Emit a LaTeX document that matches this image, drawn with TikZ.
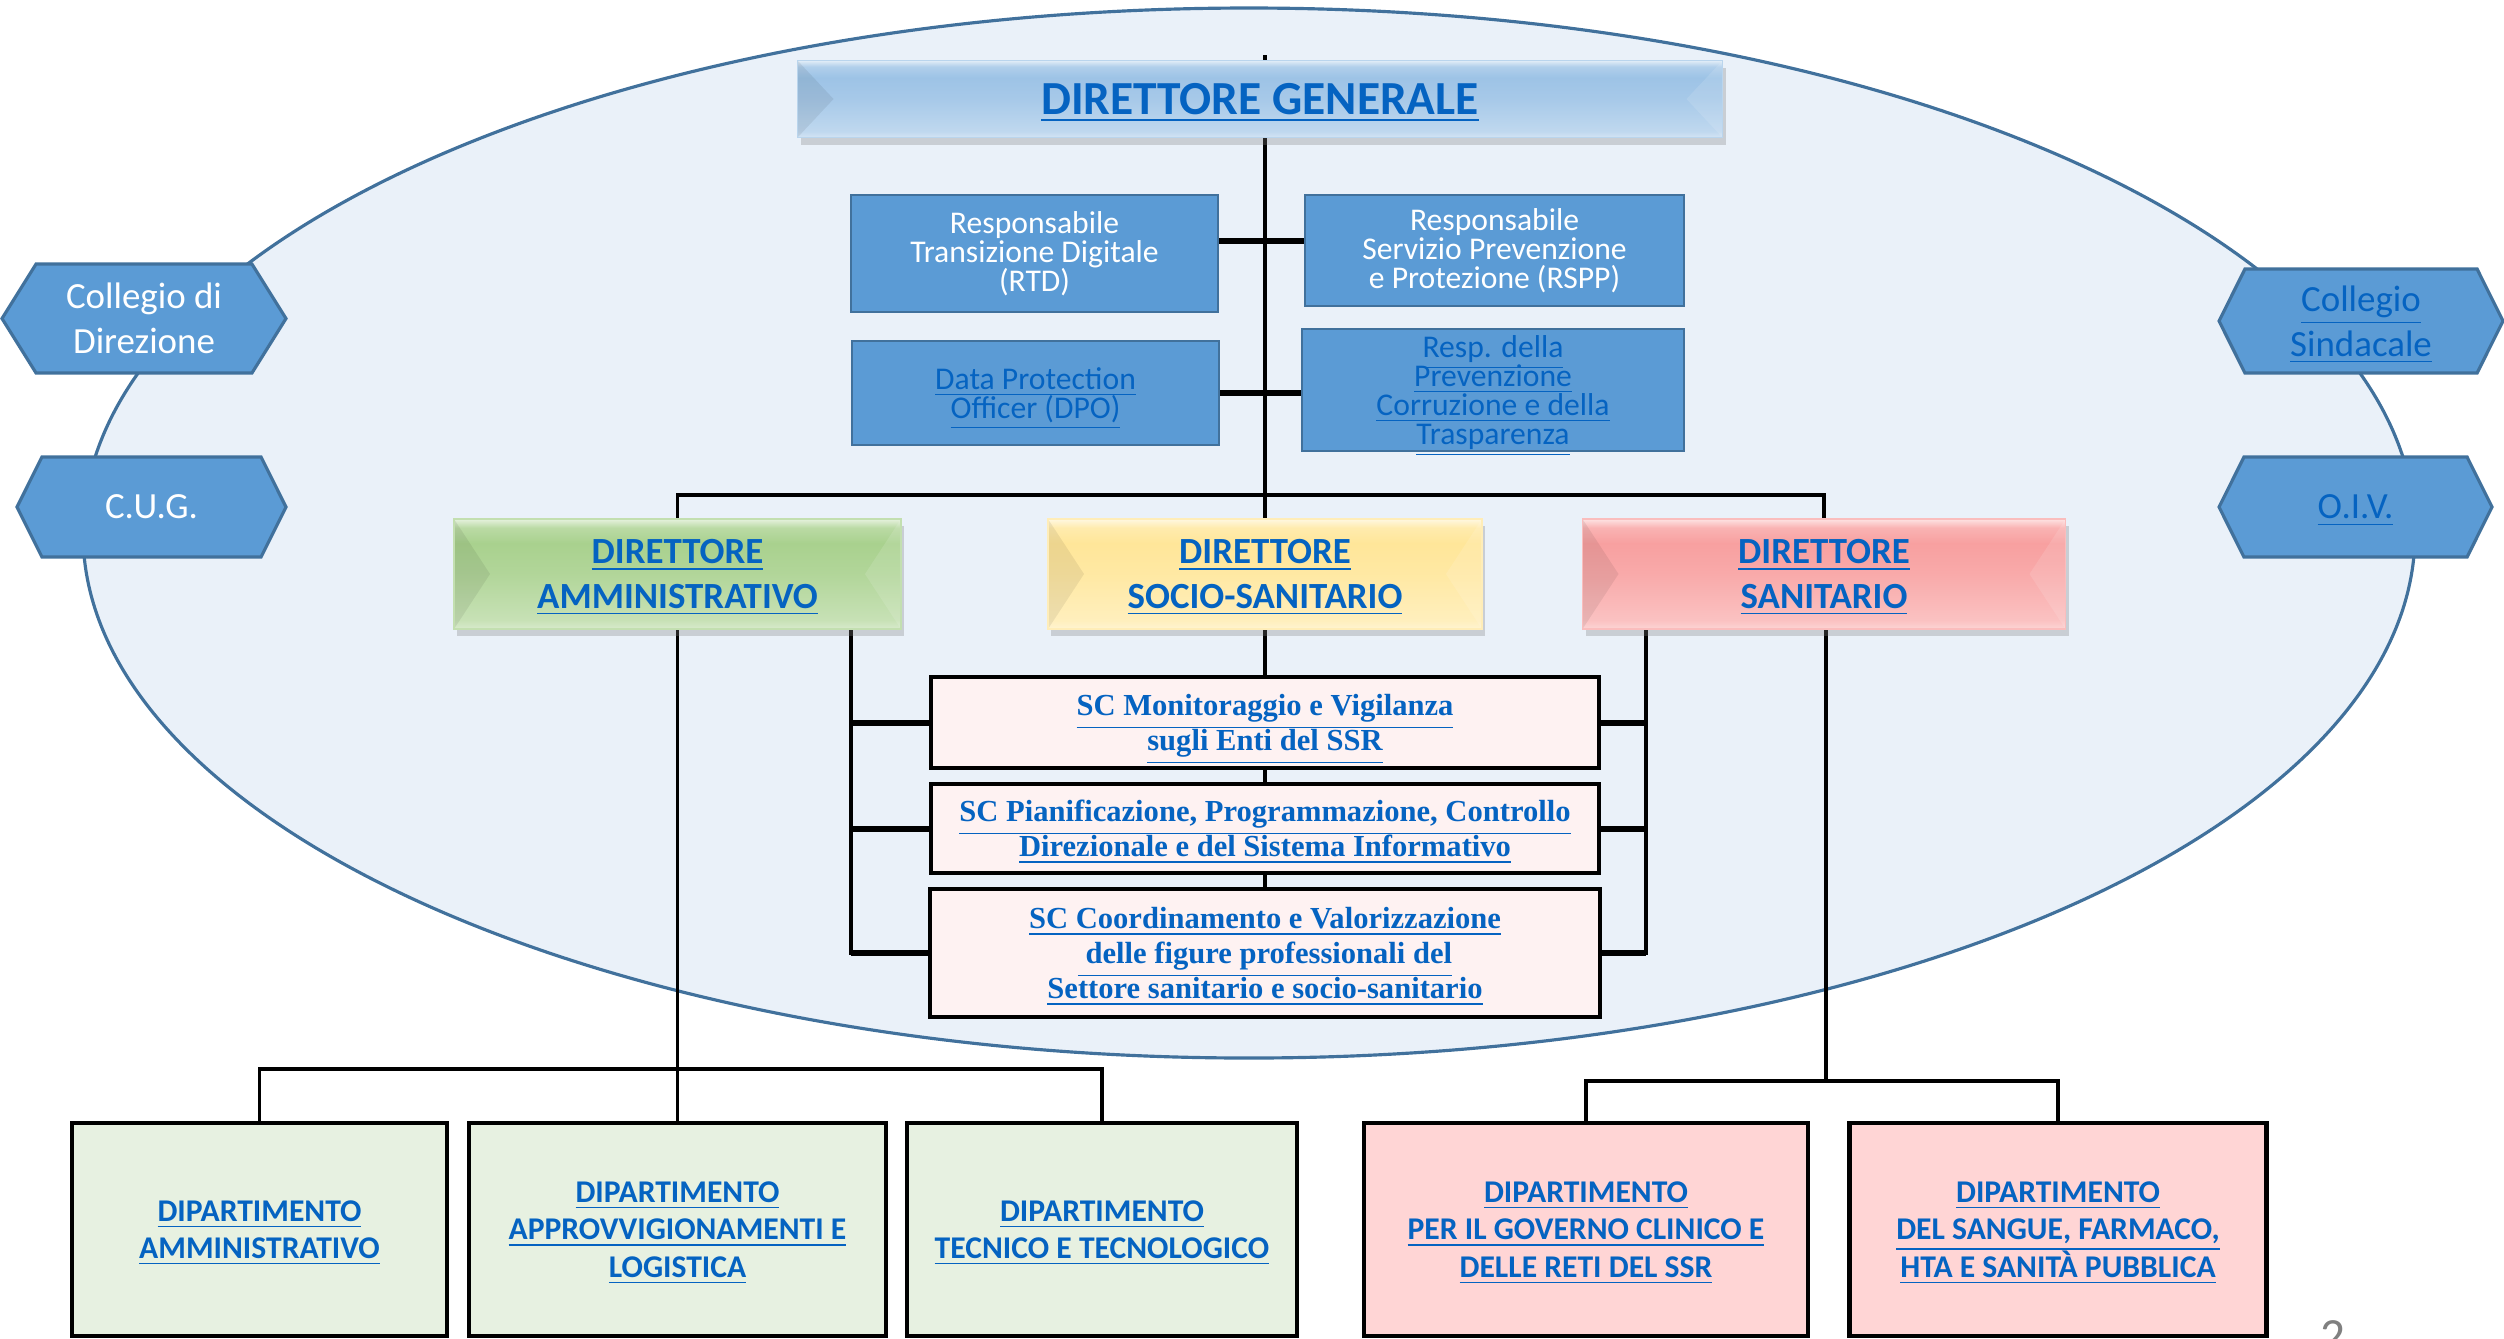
\documentclass[tikz,border=0pt]{standalone}
\usepackage{fontspec}
\setmainfont{Carlito}
\newfontfamily\scfont{Liberation Serif}
\usetikzlibrary{shapes.symbols,shadows,backgrounds,calc}

\definecolor{linkblue}{HTML}{0563C1}
\definecolor{boxblue}{HTML}{5B9BD5}
\definecolor{edgeblue}{HTML}{41719C}
\definecolor{ellfill}{HTML}{EAF1F9}
\definecolor{dgblue}{HTML}{9DC3E6}
\definecolor{dagreen}{HTML}{A9D18E}
\definecolor{dssyellow}{HTML}{FFE699}
\definecolor{dsred}{HTML}{F8A0A0}
\definecolor{scfill}{HTML}{FEF2F2}
\definecolor{depgreen}{HTML}{E7F1E1}
\definecolor{depred}{HTML}{FFD5D5}

% underlined link text, its rule kept out of the line depth
\newcommand{\lnk}[1]{\raisebox{0pt}[\height][0pt]{\underline{#1}}}
% bevel shading: the path covers 25bp (bottom) to 75bp (top)
\newcommand{\bevelshade}[1]{%
  \pgfdeclareverticalshading{bevel#1}{100bp}{color(0bp)=(#1!45!white); color(25bp)=(#1!45!white);
    color(29bp)=(#1!65!white); color(50bp)=(#1!90!white); color(64bp)=(#1); color(71bp)=(#1!80!white);
    color(75bp)=(#1!30!white); color(100bp)=(#1!30!white)}}
\bevelshade{dgblue}
\bevelshade{dagreen}
\bevelshade{dssyellow}
\bevelshade{dsred}

\begin{document}
\lineskiplimit=-20pt
\begin{tikzpicture}[line cap=rect]
  % Styles and colors
  \tikzset{
    conn/.style={line width=1pt},
    stub/.style={line width=1.7pt},
    smallbox/.style={draw=edgeblue, line width=0.8pt, fill=boxblue, align=center,
      inner sep=0pt, font=\fontsize{9}{8.2}\selectfont},
    hexa/.style={signal, signal to=east and west, draw=edgeblue, line width=0.9pt,
      fill=boxblue, align=center, inner sep=0pt, font=\fontsize{10.5}{12.8}\selectfont},
    dirbox/.style={minimum height=1.10cm, align=center, inner sep=0pt, text=linkblue,
      font=\bfseries\fontsize{10.5}{12.8}\selectfont, draw=#1!70!white, line width=0.4pt,
      shading=bevel#1,
      drop shadow={opacity=0.3, shadow xshift=0.03cm, shadow yshift=-0.07cm},
      path picture={
        \fill[black, opacity=0.07] (path picture bounding box.north west)
          -- ($(path picture bounding box.west)+(0.36,0)$) -- (path picture bounding box.south west) -- cycle;
        \fill[white, opacity=0.12] (path picture bounding box.north east)
          -- ($(path picture bounding box.east)+(-0.36,0)$) -- (path picture bounding box.south east) -- cycle;
      }},
    scbox/.style={draw=black, line width=1.3pt, fill=scfill, minimum width=6.68cm,
      align=center, inner sep=0pt, text=linkblue, font=\scfont\bfseries\fontsize{8.7}{10}\selectfont},
    depbox/.style={draw=black, line width=1.3pt, minimum height=2.13cm, align=center,
      inner sep=0pt, text=linkblue, font=\bfseries\fontsize{9}{10.6}\selectfont}
  }
  \useasboundingbox (0,0) rectangle (25.04,-13.38);

  % Direzione generale and staff
  \node[dirbox=dgblue, minimum width=9.25cm, minimum height=0.77cm,
    font=\bfseries\fontsize{13.5}{14}\selectfont] (dg) at (12.60,-0.99) {\lnk{DIRETTORE GENERALE}};
  \node[smallbox, text=white, minimum width=3.67cm, minimum height=1.17cm] (rtd) at (10.345,-2.535)
    {Responsabile\\Transizione Digitale\\(RTD)};
  \node[smallbox, text=white, minimum width=3.79cm, minimum height=1.11cm] (rspp) at (14.945,-2.505)
    {Responsabile\\Servizio Prevenzione\\e Protezione (RSPP)};
  \node[smallbox, text=linkblue, minimum width=3.67cm, minimum height=1.04cm] (dpo) at (10.355,-3.93)
    {\lnk{Data Protection}\\\lnk{Officer (DPO)}};
  \node[smallbox, text=linkblue, minimum width=3.82cm, minimum height=1.22cm] (rpct) at (14.93,-3.90)
    {\lnk{Resp. della}\\\lnk{Prevenzione}\\\lnk{Corruzione e della}\\\lnk{Trasparenza}};

  % Organi collaterali
  \node[hexa, text=white, minimum width=2.84cm, minimum height=1.09cm, signal pointer angle=116]
    (cdd) at (1.44,-3.185) {Collegio di\\Direzione};
  \node[hexa, text=white, minimum width=2.69cm, minimum height=1.00cm, signal pointer angle=127]
    (cug) at (1.515,-5.07) {C.U.G.};
  \node[hexa, text=linkblue, minimum width=2.84cm, minimum height=1.04cm, signal pointer angle=127]
    (csi) at (23.61,-3.21) {\lnk{Collegio}\\\lnk{Sindacale}};
  \node[hexa, text=linkblue, minimum width=2.73cm, minimum height=1.00cm, signal pointer angle=127]
    (oiv) at (23.555,-5.07) {\lnk{O.I.V.}};

  % Direttori
  \node[dirbox=dagreen, minimum width=4.47cm] (da) at (6.775,-5.74) {\lnk{DIRETTORE}\\\lnk{AMMINISTRATIVO}};
  \node[dirbox=dssyellow, minimum width=4.34cm] (dss) at (12.65,-5.74) {\lnk{DIRETTORE}\\\lnk{SOCIO-SANITARIO}};
  \node[dirbox=dsred, minimum width=4.83cm] (ds) at (18.24,-5.74) {\lnk{DIRETTORE}\\\lnk{SANITARIO}};

  % Strutture complesse
  \node[scbox, minimum height=0.91cm] (sc1) at (12.65,-7.225)
    {\lnk{SC Monitoraggio e Vigilanza}\\\lnk{sugli Enti del SSR}};
  \node[scbox, minimum height=0.89cm] (sc2) at (12.65,-8.285)
    {\lnk{SC Pianificazione, Programmazione, Controllo}\\\lnk{Direzionale e del Sistema Informativo}};
  \node[scbox, minimum height=1.28cm, minimum width=6.70cm] (sc3) at (12.65,-9.53)
    {\lnk{SC Coordinamento e Valorizzazione}\\\lnk{\ delle figure professionali del}\\\lnk{Settore sanitario e socio-sanitario}};

  % Dipartimenti
  \node[depbox, fill=depgreen, minimum width=3.75cm] (damm) at (2.595,-12.295)
    {\lnk{DIPARTIMENTO}\\\lnk{AMMINISTRATIVO}};
  \node[depbox, fill=depgreen, minimum width=4.17cm] (dal) at (6.775,-12.295)
    {\lnk{DIPARTIMENTO}\\\lnk{APPROVVIGIONAMENTI E}\\\lnk{LOGISTICA}};
  \node[depbox, fill=depgreen, minimum width=3.90cm] (dtt) at (11.02,-12.295)
    {\lnk{DIPARTIMENTO}\\\lnk{TECNICO E TECNOLOGICO}};
  \node[depbox, fill=depred, minimum width=4.44cm] (dgc) at (15.86,-12.295)
    {\lnk{DIPARTIMENTO}\\\lnk{PER IL GOVERNO CLINICO E}\\\lnk{DELLE RETI DEL SSR}};
  \node[depbox, fill=depred, minimum width=4.17cm] (dsf) at (20.58,-12.295)
    {\lnk{DIPARTIMENTO}\\\lnk{DEL SANGUE, FARMACO,}\\\lnk{HTA E SANIT\`A PUBBLICA}};

  % Page number
  \node[text=gray, font=\fontsize{14}{14}\selectfont, anchor=north, inner sep=0pt] (pg) at (23.33,-13.20) {2};

  % Hubs of the connectors
  \coordinate (top) at (12.65,-0.55);
  \coordinate (hub) at (12.65,-4.95);
  \coordinate (lrail) at (8.51,-6.29);
  \coordinate (rrail) at (16.46,-6.29);
  \coordinate (lhub) at (6.775,-10.69);
  \coordinate (rhub) at (18.26,-10.81);

  \begin{scope}[on background layer]
    % Direction area
    \draw[draw=edgeblue, line width=0.9pt, fill=ellfill] (12.49,-5.33) ellipse [x radius=11.66, y radius=5.25];

    \draw[conn] (top) -- (dss.north);
    \draw[conn] (da.north) |- (hub) -| (ds.north);
    \draw[stub] ($(rtd.east)+(0,0.13)$) -- ($(rspp.west |- rtd.east)+(0,0.13)$);
    \draw[stub] (dpo.east) -- (dpo.east -| rpct.west);
    \draw[conn] (dss.south) -- (sc1.north) (sc1.south) -- (sc2.north) (sc2.south) -- (sc3.north);
    \draw[conn] (lrail) |- (sc3.west);
    \draw[conn] (rrail) |- (sc3.east);
    \foreach \b in {sc1,sc2,sc3} {
      \draw[stub] (lrail |- \b.west) -- (\b.west);
      \draw[stub] (\b.east) -- (rrail |- \b.east);
    }
    \draw[conn] (da.south) -- (dal.north);
    \draw[conn] (damm.north) |- (lhub) -| (dtt.north);
    \draw[conn] (ds.south -| rhub) -- (rhub);
    \draw[conn] (dgc.north) |- (rhub) -| (dsf.north);
  \end{scope}
\end{tikzpicture}
\end{document}
